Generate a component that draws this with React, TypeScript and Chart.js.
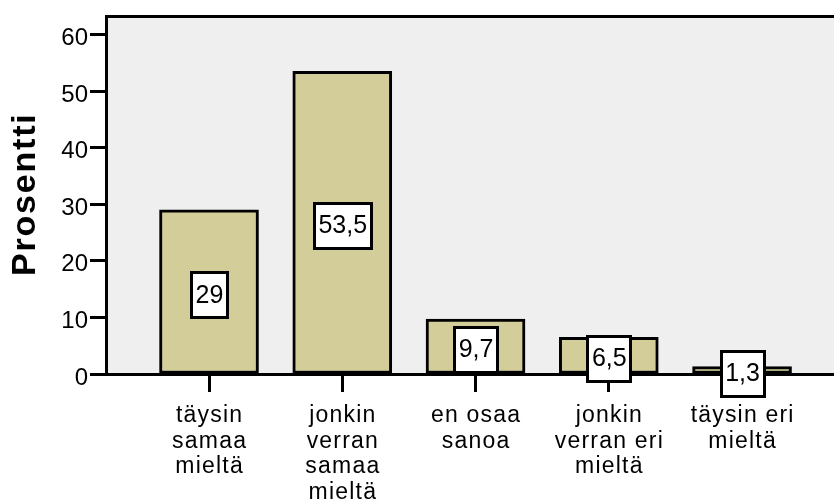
import React, { useEffect, useRef } from 'react';
import { Chart, registerables } from 'chart.js';

Chart.register(...registerables);

const categories: string[][] = [
  ['täysin', 'samaa', 'mieltä'],
  ['jonkin', 'verran', 'samaa', 'mieltä'],
  ['en osaa', 'sanoa'],
  ['jonkin', 'verran eri', 'mieltä'],
  ['täysin eri', 'mieltä'],
];
const percents: number[] = [29, 53.5, 9.7, 6.5, 1.3];
const valueLabels: string[] = ['29', '53,5', '9,7', '6,5', '1,3'];
const yTicks: number[] = [0, 10, 20, 30, 40, 50, 60];
const yTitle = 'Prosentti';

const FONT = '"Liberation Sans", Arial, sans-serif';

const framePlugin = {
  id: 'frame',
  beforeDraw(chart: any) {
    const { ctx, chartArea } = chart;
    ctx.save();
    ctx.fillStyle = '#efefef';
    ctx.fillRect(chartArea.left, chartArea.top, chartArea.right - chartArea.left, chartArea.bottom - chartArea.top);
    ctx.restore();
  },
  afterDatasetsDraw(chart: any) {
    const { ctx, chartArea } = chart;
    ctx.save();
    // top border
    ctx.strokeStyle = '#000';
    ctx.lineWidth = 3;
    ctx.beginPath();
    ctx.moveTo(chartArea.left - 1, chartArea.top);
    ctx.lineTo(chartArea.right, chartArea.top);
    ctx.stroke();

    // value labels
    ctx.font = `25px ${FONT}`;
    ctx.letterSpacing = '0px';
    const meta = chart.getDatasetMeta(0);
    meta.data.forEach((el: any, i: number) => {
      const { x, y, base } = el.getProps(['x', 'y', 'base'], true);
      const cy = (y + base) / 2 + 3;
      const text = valueLabels[i];
      const w = ctx.measureText(text).width;
      const bw = Math.round(w + 8);
      const bh = 45;
      const bx = Math.round(x - bw / 2) + 0.5;
      const by = Math.round(cy - bh / 2) + 0.5;
      ctx.fillStyle = '#fff';
      ctx.fillRect(bx, by, bw, bh);
      ctx.strokeStyle = '#000';
      ctx.lineWidth = 3;
      ctx.strokeRect(bx, by, bw, bh);
      ctx.fillStyle = '#000';
      ctx.textAlign = 'center';
      ctx.textBaseline = 'middle';
      ctx.fillText(text, x + 0.5, cy + 1);
    });
    ctx.restore();
  },
  afterDraw(chart: any) {
    const { ctx, chartArea } = chart;
    const xScale = chart.scales.x;
    ctx.save();
    // category labels
    ctx.font = `23px ${FONT}`;
    ctx.letterSpacing = '1.2px';
    ctx.fillStyle = '#000';
    ctx.textAlign = 'center';
    ctx.textBaseline = 'alphabetic';
    categories.forEach((lines, i) => {
      const px = xScale.getPixelForValue(i) + 0.6;
      lines.forEach((line, j) => {
        ctx.fillText(line, px, chartArea.bottom + 48 + j * 25.5);
      });
    });
    // y title
    ctx.font = `bold 34px ${FONT}`;
    ctx.letterSpacing = '1.8px';
    ctx.translate(35, (chartArea.top + chartArea.bottom) / 2);
    ctx.rotate(-Math.PI / 2);
    ctx.fillText(yTitle, 1, 0);
    ctx.restore();
  },
};

export default function App() {
  const ref = useRef<HTMLCanvasElement | null>(null);

  useEffect(() => {
    if (!ref.current) return;
    const chart = new Chart(ref.current, {
      type: 'bar',
      data: {
        datasets: [
          {
            data: percents.map((v, i) => ({ x: i, y: v })),
            backgroundColor: '#d3ce99',
            borderColor: '#000',
            borderWidth: 3,
            borderSkipped: false,
            barThickness: 99,
          },
        ],
      },
      options: {
        animation: false,
        responsive: false,
        layout: { padding: { top: 14, left: 0, right: 0, bottom: 0 } },
        plugins: { legend: { display: false }, tooltip: { enabled: false } },
        scales: {
          x: {
            type: 'linear',
            offset: false,
            min: -0.773,
            max: 4.69,
            afterBuildTicks: (scale: any) => {
              scale.ticks = categories.map((_, i) => ({ value: i }));
            },
            afterFit: (scale: any) => {
              scale.height = 128;
            },
            border: { display: true, color: '#000', width: 3 },
            grid: {
              offset: false,
              drawOnChartArea: false,
              drawTicks: true,
              tickLength: 18,
              color: '#000',
              tickColor: '#000',
              tickWidth: 3,
            },
            ticks: {
              display: false,
            },
          },
          y: {
            type: 'linear',
            min: 0,
            max: 63.2,
            afterBuildTicks: (scale: any) => {
              scale.ticks = yTicks.map((v) => ({ value: v }));
            },
            afterFit: (scale: any) => {
              scale.width = 106;
            },
            border: { display: true, color: '#000', width: 3 },
            grid: {
              drawOnChartArea: false,
              drawTicks: true,
              tickLength: 16,
              color: '#000',
              tickColor: '#000',
              tickWidth: 3,
            },
            ticks: {
              padding: 2,
              labelOffset: 4,
              color: '#000',
              font: { family: FONT, size: 24 },
            },
          },
        },
      },
      plugins: [framePlugin],
    } as any);
    return () => chart.destroy();
  }, []);

  return (
    <div style={{ position: 'fixed', left: 0, top: 0, width: 834, height: 502, background: '#fff' }}>
      <canvas ref={ref} width={834} height={502} style={{ display: 'block' }} />
    </div>
  );
}
